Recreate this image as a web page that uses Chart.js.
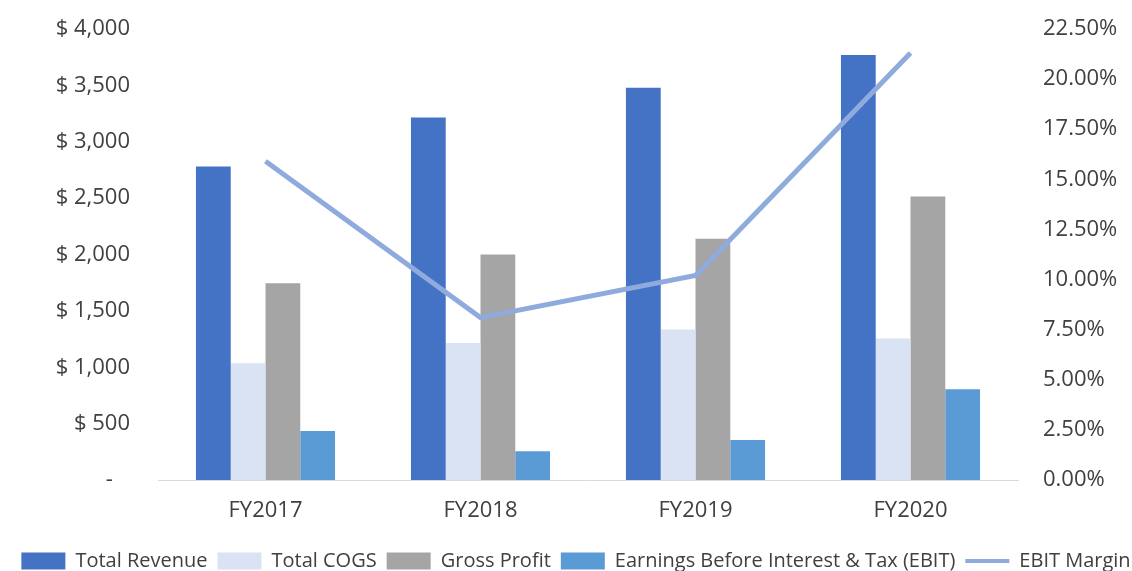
<!DOCTYPE html>
<html><head><meta charset="utf-8">
<script src="https://cdn.jsdelivr.net/npm/chart.js@4"></script>
<style>html,body{margin:0;padding:0;background:#fff;} #wrap{width:1132px;height:571px;position:relative;}</style>
</head><body><div id="wrap"><canvas id="c"></canvas></div>
<script>
const categories = ['FY2017', 'FY2018', 'FY2019', 'FY2020'];
const totalRevenue = [2780, 3215, 3480, 3770];
const totalCOGS = [1035, 1215, 1335, 1255];
const grossProfit = [1745, 2000, 2140, 2515];
const ebit = [435, 255, 355, 805];
const ebitMargin = [15.9, 8.1, 10.2, 21.3];

Chart.defaults.font.family = "'Open Sans', sans-serif";
const textColor = '#404040';

const legendShift = {
  id: 'legendShift',
  afterLayout(chart) {
    const l = chart.legend;
    if (l) { l.top += 10; l.bottom += 10; l.left += 10; l.right += 10; }
  }
};

new Chart(document.getElementById('c'), {
  type: 'bar',
  plugins: [legendShift],
  data: {
    labels: categories,
    datasets: [
      { label: 'Total Revenue', data: totalRevenue, backgroundColor: '#4472C4', order: 1, yAxisID: 'y' },
      { label: 'Total COGS', data: totalCOGS, backgroundColor: '#DAE3F3', order: 1, yAxisID: 'y' },
      { label: 'Gross Profit', data: grossProfit, backgroundColor: '#A5A5A5', order: 1, yAxisID: 'y' },
      { label: 'Earnings Before Interest & Tax (EBIT)', data: ebit, backgroundColor: '#5B9BD5', order: 1, yAxisID: 'y' },
      { type: 'line', label: 'EBIT Margin', data: ebitMargin, borderColor: '#8FAADC', backgroundColor: '#8FAADC', borderWidth: 5, pointRadius: 0, tension: 0, order: 0, yAxisID: 'y1' }
    ]
  },
  options: {
    responsive: true,
    maintainAspectRatio: false,
    animation: false,
    layout: { padding: { left: 0, right: 0, top: 29, bottom: 0 } },
    datasets: { bar: { categoryPercentage: 0.647, barPercentage: 1 } },
    plugins: {
      tooltip: { enabled: false },
      legend: {
        position: 'bottom',
        labels: {
          usePointStyle: true,
          pointStyleWidth: 44,
          boxHeight: 17,
          padding: 10,
          color: textColor,
          font: { size: 20 },
          sort: (a, b) => a.datasetIndex - b.datasetIndex,
          generateLabels: (chart) => {
            const items = Chart.defaults.plugins.legend.labels.generateLabels(chart);
            items.forEach(it => {
              const ds = chart.data.datasets[it.datasetIndex];
              if (ds.type === 'line') { it.pointStyle = 'line'; it.lineWidth = 4; it.strokeStyle = ds.borderColor; }
              else { it.pointStyle = 'rect'; it.lineWidth = 0; it.fillStyle = ds.backgroundColor; }
            });
            return items;
          }
        }
      }
    },
    scales: {
      x: {
        grid: { display: false, drawTicks: false },
        border: { display: true, color: '#d9d9d9', width: 1 },
        ticks: { font: { size: 22 }, color: textColor, padding: 18 },
        afterFit: s => { s.height = 51; }
      },
      y: {
        position: 'left', min: 0, max: 4000,
        grid: { display: false, drawTicks: false },
        border: { display: false },
        ticks: {
          stepSize: 500, padding: 28, font: { size: 22 }, color: textColor,
          callback: v => v === 0 ? '-   ' : '$ ' + v.toLocaleString('en-US')
        },
        afterFit: s => { s.width = 158; s.paddingTop = 0; s.paddingBottom = 0; }
      },
      y1: {
        position: 'right', min: 0, max: 22.5,
        grid: { display: false, drawTicks: false },
        border: { display: false },
        ticks: {
          stepSize: 2.5, padding: 25, font: { size: 22 }, color: textColor,
          callback: v => v.toFixed(2) + '%'
        },
        afterFit: s => { s.width = 114; s.paddingTop = 0; s.paddingBottom = 0; }
      }
    }
  }
});
</script>
</body></html>
